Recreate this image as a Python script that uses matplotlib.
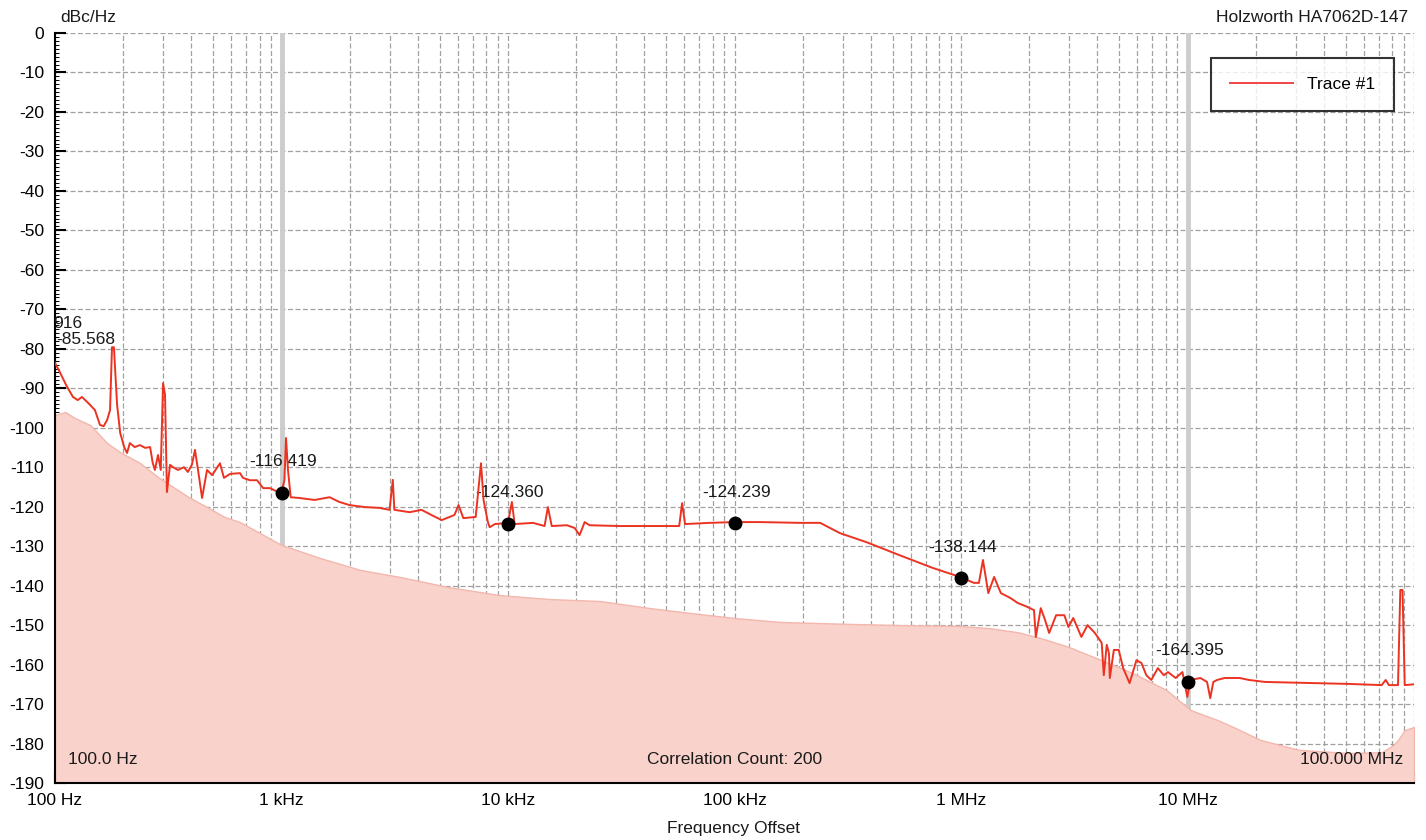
import matplotlib
matplotlib.use("Agg")
import matplotlib.pyplot as plt
from matplotlib.ticker import FixedLocator, MultipleLocator, NullFormatter

plt.rcParams['font.family'] = ['Liberation Sans', 'DejaVu Sans']
plt.rcParams['axes.unicode_minus'] = False

# phase noise trace (offset frequency in Hz, level in dBc/Hz)
trace_freq = [100, 105, 112, 120, 126, 131.5, 140, 150, 158, 164, 170, 175, 178.5, 182, 188,
              194, 202, 208, 214, 225, 237, 250, 263, 270, 276, 285, 293, 300, 306, 312,
              322, 332, 349, 371, 386, 402, 415, 428, 446, 469, 494, 535, 557, 593, 656,
              676, 725, 780, 830, 890, 967, 1000, 1030, 1047, 1068, 1098, 1200, 1400, 1630,
              1800, 2000, 2330, 2700, 3000, 3100, 3150, 3680, 4150, 4700, 5100, 5800, 6050,
              6350, 7200, 7400, 7600, 7800, 8150, 8300, 8750, 10000, 10400, 10700, 12900,
              14500, 15000, 15600, 18200, 19700, 20700, 21800, 22900, 31000, 42000, 57000,
              58700, 60500, 77500, 1.0e5, 1.3e5, 1.95e5, 2.39e5, 2.92e5, 3.83e5, 5.36e5,
              7.49e5, 9.9e5, 1.14e6, 1.2e6, 1.25e6, 1.32e6, 1.4e6, 1.5e6, 1.66e6, 1.78e6,
              1.93e6, 2.1e6, 2.14e6, 2.25e6, 2.35e6, 2.45e6, 2.63e6, 2.86e6, 2.98e6, 3.13e6,
              3.4e6, 3.62e6, 3.9e6, 4.18e6, 4.27e6, 4.4e6, 4.5e6, 4.54e6, 4.73e6, 4.97e6,
              5.2e6, 5.55e6, 5.95e6, 6.26e6, 6.58e6, 6.92e6, 7.4e6, 7.86e6, 8.2e6, 8.87e6,
              9.5e6, 9.98e6, 1.03e7, 1.14e7, 1.22e7, 1.26e7, 1.3e7, 1.35e7, 1.46e7, 1.7e7,
              1.87e7, 2.2e7, 3.68e7, 5.15e7, 7.2e7, 7.5e7, 7.75e7, 8.5e7, 8.7e7, 8.9e7,
              9.1e7, 1.0e8]
trace_db = [-83.6, -85.9, -89.2, -92.2, -93.0, -92.2, -93.7, -95.5, -99.3, -99.6, -98.0, -95.5,
            -79.6, -79.6, -94.2, -101.3, -104.9, -106.4, -103.9, -104.9, -104.4, -105.1, -104.9,
            -108.9, -110.7, -106.9, -110.7, -88.7, -91.7, -116.3, -109.4, -110.0, -110.7, -110.0,
            -111.2, -109.4, -105.6, -110.7, -117.8, -110.7, -112.0, -109.0, -112.7, -111.7,
            -111.5, -112.7, -113.3, -113.3, -115.3, -115.3, -116.3, -116.3, -113.3, -102.6,
            -110.7, -117.6, -117.8, -118.3, -117.6, -118.8, -119.6, -120.1, -120.3, -120.8,
            -113.2, -120.8, -121.4, -120.8, -122.4, -123.4, -122.1, -119.6, -122.9, -122.6,
            -115.8, -109.0, -118.3, -123.9, -125.2, -124.4, -124.1, -118.8, -124.4, -124.1,
            -124.9, -120.1, -124.9, -124.7, -125.4, -127.2, -123.9, -124.7, -124.9, -124.9,
            -124.9, -119.1, -124.4, -124.1, -123.9, -123.9, -124.1, -124.1, -126.7, -129.0,
            -132.3, -135.5, -137.8, -139.3, -139.3, -133.5, -141.9, -137.8, -141.9, -143.2,
            -144.4, -145.2, -146.2, -153.0, -145.7, -148.7, -152.0, -147.5, -147.5, -150.5,
            -148.2, -153.0, -150.0, -152.0, -154.5, -162.7, -155.0, -157.1, -163.4, -156.3,
            -156.3, -160.9, -164.7, -158.9, -159.6, -162.7, -163.9, -160.9, -162.7, -161.9,
            -163.4, -161.9, -168.2, -163.9, -163.4, -164.4, -168.5, -164.4, -163.9, -163.4,
            -163.4, -163.9, -164.4, -164.7, -164.9, -165.2, -163.9, -165.2, -165.2, -141.1,
            -141.1, -165.2, -165.0]

# correlation floor (shaded region)
floor_freq = [100, 111, 122, 143, 170, 194, 237, 285, 332, 390, 469, 560, 656, 1000, 1480,
              2220, 3330, 5500, 9200, 15300, 25500, 42500, 70000, 1.0e5, 1.59e5, 3.24e5,
              5.36e5, 9.9e5, 1.35e6, 1.78e6, 2.25e6, 2.98e6, 4.18e6, 5.75e6, 8.1e6, 1.03e7,
              1.35e7, 1.59e7, 2.1e7, 3.1e7, 5.15e7, 7.2e7, 8.1e7, 8.5e7, 9.1e7, 1.0e8]
floor_db = [-96.8, -96.0, -97.5, -99.3, -103.9, -106.2, -108.9, -112.5, -115.0, -117.6, -120.1,
            -122.6, -123.9, -129.7, -133.0, -136.0, -137.8, -140.4, -142.4, -143.4, -143.9,
            -145.7, -147.2, -148.2, -149.2, -149.7, -150.0, -150.2, -150.8, -151.8, -153.3,
            -155.5, -158.9, -162.2, -166.5, -171.5, -174.0, -175.8, -179.1, -181.6, -182.4,
            -182.2, -180.4, -179.1, -176.6, -175.8]

marker_freq = [1e3, 1e4, 1e5, 1e6, 1e7]
marker_db = [-116.419, -124.360, -124.239, -138.144, -164.395]

xtick_vals = [1e2, 1e3, 1e4, 1e5, 1e6, 1e7, 1e8]
xtick_labels = ['100 Hz', '1 kHz', '10 kHz', '100 kHz', '1 MHz', '10 MHz', '']
ytick_vals = list(range(0, -200, -10))
ytick_labels = [str(v) for v in ytick_vals]
cursor_freq = [1e3, 1e7]

W, H = 1426, 840
fig = plt.figure(figsize=(W / 100, H / 100), dpi=100)
ax = fig.add_axes([55 / W, 1 - 783 / H, (1414 - 55) / W, (783 - 33) / H])

ax.set_xscale('log')
ax.set_xlim(1e2, 1e8)
ax.set_ylim(-190, 0)

grid_kw = dict(color='#a0a0a0', lw=0.9, ls=(0, (4, 2)))
ax.xaxis.set_major_locator(FixedLocator(xtick_vals))
ax.set_xticklabels(xtick_labels)
ax.xaxis.set_minor_locator(FixedLocator([m * 10 ** e for e in range(2, 8) for m in range(2, 10)]))
ax.xaxis.set_minor_formatter(NullFormatter())
ax.yaxis.set_major_locator(FixedLocator(ytick_vals))
ax.set_yticklabels(ytick_labels)
ax.yaxis.set_minor_locator(MultipleLocator(1))
ax.grid(True, which='major', axis='both', **grid_kw)
ax.grid(True, which='minor', axis='x', **grid_kw)
ax.set_axisbelow(True)

ax.tick_params(axis='both', which='major', direction='in', length=8, width=1.5,
               labelsize=12.5, colors='black')
ax.tick_params(axis='y', which='major', pad=8)
ax.tick_params(axis='x', which='major', pad=7)
ax.tick_params(axis='x', which='minor', length=0)
ax.tick_params(axis='y', which='minor', direction='in', length=3, width=0.7)
for s in ['top', 'right']:
    ax.spines[s].set_visible(False)
for s in ['left', 'bottom']:
    ax.spines[s].set_linewidth(1.5)

for f in cursor_freq:
    ax.axvline(f, color='#cdcdcd', lw=3.5, zorder=1)

ax.fill_between(floor_freq, floor_db, -190, color='#f9d2cb', edgecolor='#f3b7ad', lw=1, zorder=2)
ax.plot(trace_freq, trace_db, color='#ec3322', lw=1.4, label='Trace #1', zorder=4)
ax.plot(marker_freq, marker_db, 'o', color='black', ms=9, zorder=5)
for f, v in zip(marker_freq, marker_db):
    ax.annotate('%.3f' % v, (f, v), xytext=(2, 31), textcoords='offset pixels',
                ha='center', va='center', fontsize=12.5, color='#1a1a1a')

# clipped marker labels at the left edge
ax.text(-0.0015, 0.612, '916', transform=ax.transAxes, ha='left', va='center', fontsize=12.5,
        color='#1a1a1a')
ax.text(0.001, 0.592, '-85.568', transform=ax.transAxes, ha='left', va='center', fontsize=12.5,
        color='#1a1a1a')

ax.text(13 / 1359, 24 / 750, '100.0 Hz', transform=ax.transAxes, ha='left', va='center',
        fontsize=12.5, color='#1a1a1a')
ax.text(0.5, 24 / 750, 'Correlation Count: 200', transform=ax.transAxes, ha='center',
        va='center', fontsize=12.5, color='#1a1a1a')
ax.text(1 - 11 / 1359, 24 / 750, '100.000 MHz', transform=ax.transAxes, ha='right',
        va='center', fontsize=12.5, color='#1a1a1a')

leg = ax.legend(loc='upper right', bbox_to_anchor=(1339 / 1359, 1 - 25 / 750), fontsize=12.5,
                frameon=True, fancybox=False, borderpad=1.1, handlelength=3.6,
                handletextpad=0.8, borderaxespad=0)
leg.get_frame().set_edgecolor('black')
leg.get_frame().set_linewidth(1.5)
leg.get_lines()[0].set_color('#f04545')

fig.text(60 / W, 1 - 17 / H, 'dBc/Hz', ha='left', va='center', fontsize=12.5, color='#1a1a1a')
fig.text(1408 / W, 1 - 17 / H, 'Holzworth HA7062D-147', ha='right', va='center', fontsize=12.5,
         color='#1a1a1a')
fig.text(733 / W, 1 - 828 / H, 'Frequency Offset', ha='center', va='center', fontsize=12.5,
         color='#1a1a1a')

fig.savefig('out.png', dpi=100, facecolor='white')
